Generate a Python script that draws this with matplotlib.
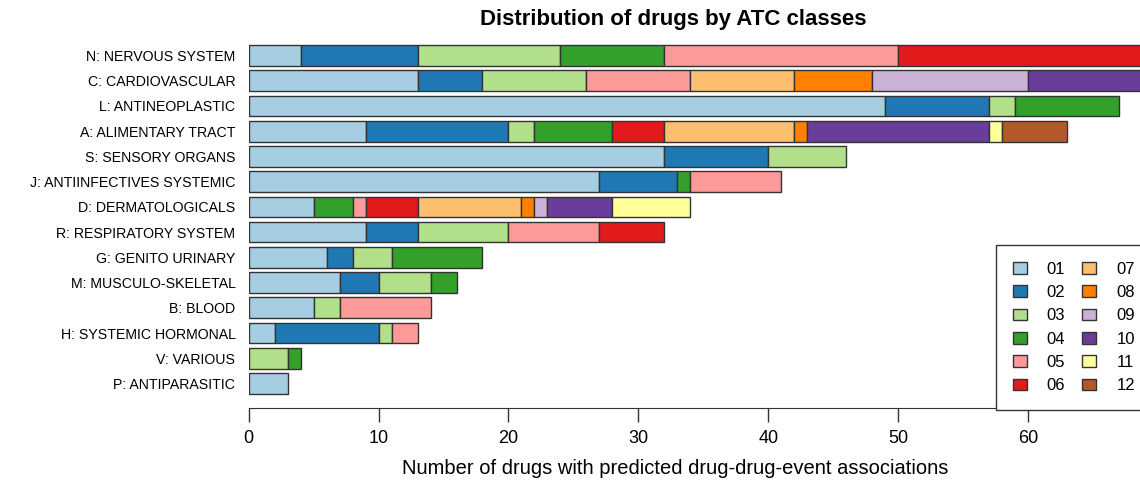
import numpy as np
import matplotlib.pyplot as plt

plt.rcParams['font.family'] = ['Liberation Sans', 'DejaVu Sans']

# ATC classes, top to bottom
classes = ['N: NERVOUS SYSTEM', 'C: CARDIOVASCULAR', 'L: ANTINEOPLASTIC',
           'A: ALIMENTARY TRACT', 'S: SENSORY ORGANS', 'J: ANTIINFECTIVES SYSTEMIC',
           'D: DERMATOLOGICALS', 'R: RESPIRATORY SYSTEM', 'G: GENITO URINARY',
           'M: MUSCULO-SKELETAL', 'B: BLOOD', 'H: SYSTEMIC HORMONAL',
           'V: VARIOUS', 'P: ANTIPARASITIC']

# counts per sub-class code, same order as classes
atc_01 = [4, 13, 49, 9, 32, 27, 5, 9, 6, 7, 5, 2, 0, 3]
atc_02 = [9, 5, 8, 11, 8, 6, 0, 4, 2, 3, 0, 8, 0, 0]
atc_03 = [11, 8, 2, 2, 6, 0, 0, 7, 3, 4, 2, 1, 3, 0]
atc_04 = [8, 0, 8, 6, 0, 1, 3, 0, 7, 2, 0, 0, 1, 0]
atc_05 = [18, 8, 0, 0, 0, 7, 1, 7, 0, 0, 7, 2, 0, 0]
atc_06 = [20, 0, 0, 4, 0, 0, 4, 5, 0, 0, 0, 0, 0, 0]
atc_07 = [0, 8, 0, 10, 0, 0, 8, 0, 0, 0, 0, 0, 0, 0]
atc_08 = [0, 6, 0, 1, 0, 0, 1, 0, 0, 0, 0, 0, 0, 0]
atc_09 = [0, 12, 0, 0, 0, 0, 1, 0, 0, 0, 0, 0, 0, 0]
atc_10 = [0, 10, 0, 14, 0, 0, 5, 0, 0, 0, 0, 0, 0, 0]
atc_11 = [0, 0, 0, 1, 0, 0, 6, 0, 0, 0, 0, 0, 0, 0]
atc_12 = [0, 0, 0, 5, 0, 0, 0, 0, 0, 0, 0, 0, 0, 0]

codes = ['01', '02', '03', '04', '05', '06', '07', '08', '09', '10', '11', '12']
series = [atc_01, atc_02, atc_03, atc_04, atc_05, atc_06,
          atc_07, atc_08, atc_09, atc_10, atc_11, atc_12]
colors = ['#A6CEE3', '#1F78B4', '#B2DF8A', '#33A02C', '#FB9A99', '#E31A1C',
          '#FDBF6F', '#FF7F00', '#CAB2D6', '#6A3D9A', '#FFFF99', '#B15928']

W, H = 1140, 483
fig = plt.figure(figsize=(W / 100, H / 100), dpi=100)
ax = fig.add_axes([248.6 / W, (H - 408) / H, (W - 248.6) / W, (408 - 31) / H])

y = np.arange(len(classes))
left = np.zeros(len(classes))
for vals, col, code in zip(series, colors, codes):
    vals = np.array(vals, dtype=float)
    m = vals > 0
    ax.barh(y[m], vals[m], left=left[m], height=0.82, color=col,
            edgecolor='#333333', linewidth=1, label=code)
    left += vals

ax.set_xlim(0, 68.6)
ax.set_ylim(13.97, -0.97)
for s in ['top', 'right', 'left']:
    ax.spines[s].set_visible(False)
ax.spines['bottom'].set_color('#333333')
ax.set_xticks(range(0, 70, 10))
ax.tick_params(axis='x', labelsize=13, length=10, width=1, color='#333333', pad=6)
ax.set_yticks(y, classes)
ax.tick_params(axis='y', labelsize=10.2, length=0, pad=9.5)

ax.legend(ncol=2, loc='upper left', bbox_to_anchor=(996 / W, 1 - 245 / H),
          bbox_transform=fig.transFigure, fontsize=12, frameon=True,
          fancybox=False, edgecolor='#333333', framealpha=1,
          handlelength=0.85, handleheight=0.72, handletextpad=1.2,
          columnspacing=1.0, labelspacing=0.5, borderpad=1.0,
          borderaxespad=0)

fig.text(673 / W, 1 - 20 / H, 'Distribution of drugs by ATC classes',
         ha='center', va='center', fontsize=16, fontweight='bold')
fig.text(675 / W, 1 - 468 / H,
         'Number of drugs with predicted drug-drug-event associations',
         ha='center', va='center', fontsize=14.5)

fig.savefig('out.png', dpi=100)
